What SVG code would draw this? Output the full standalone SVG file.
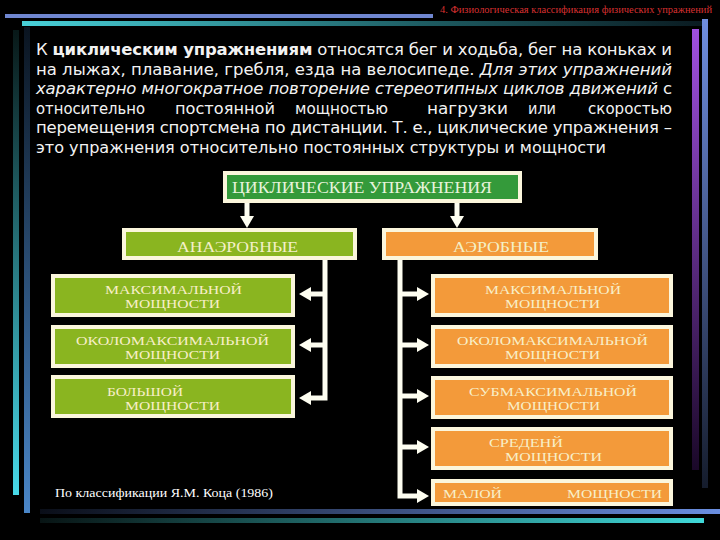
<svg xmlns="http://www.w3.org/2000/svg" width="720" height="540" viewBox="0 0 720 540">
<defs>
<linearGradient id="gTealH" x1="0" y1="0" x2="1" y2="0"><stop offset="0" stop-color="#48d0d8"/><stop offset="0.6" stop-color="#1d5a60"/><stop offset="1" stop-color="#0a1a20"/></linearGradient>
<linearGradient id="gBlueV" x1="0" y1="0" x2="0" y2="1"><stop offset="0" stop-color="#6f8ee0"/><stop offset="1" stop-color="#151c2c"/></linearGradient>
<linearGradient id="gPurpV" x1="0" y1="0" x2="0" y2="1"><stop offset="0" stop-color="#a050e0"/><stop offset="1" stop-color="#1a0828"/></linearGradient>
<linearGradient id="gTealV" x1="0" y1="0" x2="0" y2="1"><stop offset="0" stop-color="#081818"/><stop offset="1" stop-color="#48d8e8"/></linearGradient>
<linearGradient id="gBlueV2" x1="0" y1="0" x2="0" y2="1"><stop offset="0" stop-color="#0a1420"/><stop offset="1" stop-color="#4a86c8"/></linearGradient>
<linearGradient id="gBlueH2" x1="0" y1="0" x2="1" y2="0"><stop offset="0" stop-color="#0a0e18"/><stop offset="1" stop-color="#6a8ee0"/></linearGradient>
<linearGradient id="gTealH2" x1="0" y1="0" x2="1" y2="0"><stop offset="0" stop-color="#081414"/><stop offset="1" stop-color="#40d8d8"/></linearGradient>
<marker id="ah" viewBox="0 0 12 14" refX="2" refY="7" markerWidth="12" markerHeight="14" markerUnits="userSpaceOnUse" orient="auto">
<path d="M0,0 L12,7 L0,14 Z" fill="#fdfdf0"/>
</marker>
<style>
.box{stroke:#fbf6dc;stroke-width:4}
.top{fill:#349a3a}
.an{fill:#8ab520}
.ae{fill:#f39a3a}
.bt{font-family:"Liberation Serif","Times New Roman",serif;font-size:13px;fill:#f8efc8}
.hd{font-family:"Liberation Serif","Times New Roman",serif;fill:#f4f0c8}
.con{fill:none;stroke:#fdfdf0;stroke-width:5;stroke-linejoin:miter}
.p{font-family:"DejaVu Sans",Verdana,sans-serif;font-size:15px;fill:#f2f2f2}
</style>
</defs>
<rect width="720" height="540" fill="#000"/>
<g id="decor">
<rect x="5" y="14" width="428" height="4" fill="#6f86d0"/>
<rect x="22" y="21" width="683" height="5" fill="url(#gTealH)"/>
<rect x="702" y="19" width="6" height="469" fill="url(#gBlueV)"/>
<rect x="692" y="29" width="7" height="441" fill="url(#gPurpV)"/>
<rect x="13" y="30" width="6" height="465" fill="url(#gTealV)"/>
<rect x="24" y="27" width="6" height="486" fill="url(#gBlueV2)"/>
<rect x="40" y="509" width="680" height="5" fill="url(#gBlueH2)"/>
<rect x="40" y="518" width="664" height="5" fill="url(#gTealH2)"/>
</g>
<text x="440" y="13" font-family="Liberation Serif,serif" font-size="10" fill="#d83030" textLength="272" lengthAdjust="spacingAndGlyphs">4. Физиологическая классификация физических упражнений</text>
<g id="paragraph" class="p">
<g transform="scale(1.1,1)">
<text x="32.7" y="55" textLength="578.2" lengthAdjust="spacing">К <tspan font-weight="bold">циклическим упражнениям</tspan> относятся бег и ходьба, бег на коньках и</text>
<text x="32.7" y="74.6" textLength="578.2" lengthAdjust="spacing">на лыжах, плавание, гребля, езда на велосипеде. <tspan font-style="italic">Для этих упражнений</tspan></text>
<text x="32.7" y="94.2" textLength="578.2" lengthAdjust="spacing"><tspan font-style="italic">характерно многократное повторение стереотипных циклов движений</tspan> с</text>
<text x="32.7" y="133.4" textLength="578.2" lengthAdjust="spacing">перемещения спортсмена по дистанции. Т. е., циклические упражнения –</text>
<text x="32.7" y="153" textLength="518.2" lengthAdjust="spacingAndGlyphs">это упражнения относительно постоянных структуры и мощности</text>
</g>
<text x="36" y="113.8" textLength="109" lengthAdjust="spacingAndGlyphs">относительно</text>
<text x="175" y="113.8" textLength="100" lengthAdjust="spacingAndGlyphs">постоянной</text>
<text x="295" y="113.8" textLength="93" lengthAdjust="spacingAndGlyphs">мощностью</text>
<text x="427" y="113.8" textLength="81" lengthAdjust="spacingAndGlyphs">нагрузки</text>
<text x="528" y="113.8" textLength="28" lengthAdjust="spacingAndGlyphs">или</text>
<text x="588" y="113.8" textLength="84" lengthAdjust="spacingAndGlyphs">скоростью</text>
</g>
<g id="connectors">
<path class="con" d="M247,203 V218" marker-end="url(#ah)"/>
<path class="con" d="M457,203 V218" marker-end="url(#ah)"/>
<path class="con" d="M325,260 V398 H309" marker-end="url(#ah)"/>
<path class="con" d="M325,294 H309" marker-end="url(#ah)"/>
<path class="con" d="M325,345 H309" marker-end="url(#ah)"/>
<path class="con" d="M400,260 V496 H419" marker-end="url(#ah)"/>
<path class="con" d="M400,294 H419" marker-end="url(#ah)"/>
<path class="con" d="M400,345 H419" marker-end="url(#ah)"/>
<path class="con" d="M400,396 H419" marker-end="url(#ah)"/>
<path class="con" d="M400,447 H419" marker-end="url(#ah)"/>
</g>
<g id="cyclic">
<rect class="box top" x="225" y="173" width="295" height="28"/>
<text class="hd" x="232" y="193" font-size="17" style="fill:#e8f4dc" textLength="260" lengthAdjust="spacingAndGlyphs">ЦИКЛИЧЕСКИЕ УПРАЖНЕНИЯ</text>
</g>
<g id="anaerobic">
<rect class="box an" x="124" y="230" width="231" height="28"/>
<text class="hd" x="177" y="252" font-size="15" textLength="121" lengthAdjust="spacingAndGlyphs">АНАЭРОБНЫЕ</text>
</g>
<g id="aerobic">
<rect class="box ae" x="384" y="230" width="212" height="28"/>
<text class="hd" x="453" y="252" font-size="15" textLength="96" lengthAdjust="spacingAndGlyphs">АЭРОБНЫЕ</text>
</g>
<g id="an-max">
<rect class="box an" x="53" y="276" width="240" height="39"/>
<text class="bt" x="105" y="294" textLength="137" lengthAdjust="spacingAndGlyphs">МАКСИМАЛЬНОЙ</text>
<text class="bt" x="125" y="308" textLength="95" lengthAdjust="spacingAndGlyphs">МОЩНОСТИ</text>
</g>
<g id="an-nearmax">
<rect class="box an" x="53" y="327" width="240" height="39"/>
<text class="bt" x="76" y="345" textLength="193" lengthAdjust="spacingAndGlyphs">ОКОЛОМАКСИМАЛЬНОЙ</text>
<text class="bt" x="125" y="359" textLength="95" lengthAdjust="spacingAndGlyphs">МОЩНОСТИ</text>
</g>
<g id="an-large">
<rect class="box an" x="53" y="377" width="240" height="39"/>
<text class="bt" x="107" y="396" textLength="76" lengthAdjust="spacingAndGlyphs">БОЛЬШОЙ</text>
<text class="bt" x="125" y="410" textLength="95" lengthAdjust="spacingAndGlyphs">МОЩНОСТИ</text>
</g>
<g id="ae-max">
<rect class="box ae" x="433" y="276" width="238" height="39"/>
<text class="bt" x="485" y="294" textLength="136" lengthAdjust="spacingAndGlyphs">МАКСИМАЛЬНОЙ</text>
<text class="bt" x="505" y="308" textLength="95" lengthAdjust="spacingAndGlyphs">МОЩНОСТИ</text>
</g>
<g id="ae-nearmax">
<rect class="box ae" x="433" y="327" width="238" height="39"/>
<text class="bt" x="457" y="345" textLength="191" lengthAdjust="spacingAndGlyphs">ОКОЛОМАКСИМАЛЬНОЙ</text>
<text class="bt" x="505" y="359" textLength="95" lengthAdjust="spacingAndGlyphs">МОЩНОСТИ</text>
</g>
<g id="ae-submax">
<rect class="box ae" x="433" y="378" width="238" height="39"/>
<text class="bt" x="469" y="396" textLength="168" lengthAdjust="spacingAndGlyphs">СУБМАКСИМАЛЬНОЙ</text>
<text class="bt" x="507" y="410" textLength="93" lengthAdjust="spacingAndGlyphs">МОЩНОСТИ</text>
</g>
<g id="ae-medium">
<rect class="box ae" x="433" y="429" width="238" height="39"/>
<text class="bt" x="489" y="447" textLength="74" lengthAdjust="spacingAndGlyphs">СРЕДЕНЙ</text>
<text class="bt" x="505" y="461" textLength="97" lengthAdjust="spacingAndGlyphs">МОЩНОСТИ</text>
</g>
<g id="ae-low">
<rect class="box ae" x="433" y="481" width="238" height="23"/>
<text class="bt" x="443" y="498" textLength="59" lengthAdjust="spacingAndGlyphs">МАЛОЙ</text>
<text class="bt" x="567" y="498" textLength="95" lengthAdjust="spacingAndGlyphs">МОЩНОСТИ</text>
</g>
<text x="55" y="497" font-family="Liberation Serif,serif" font-size="13" fill="#ffffff" textLength="218" lengthAdjust="spacingAndGlyphs">По классификации Я.М. Коца (1986)</text>
</svg>
